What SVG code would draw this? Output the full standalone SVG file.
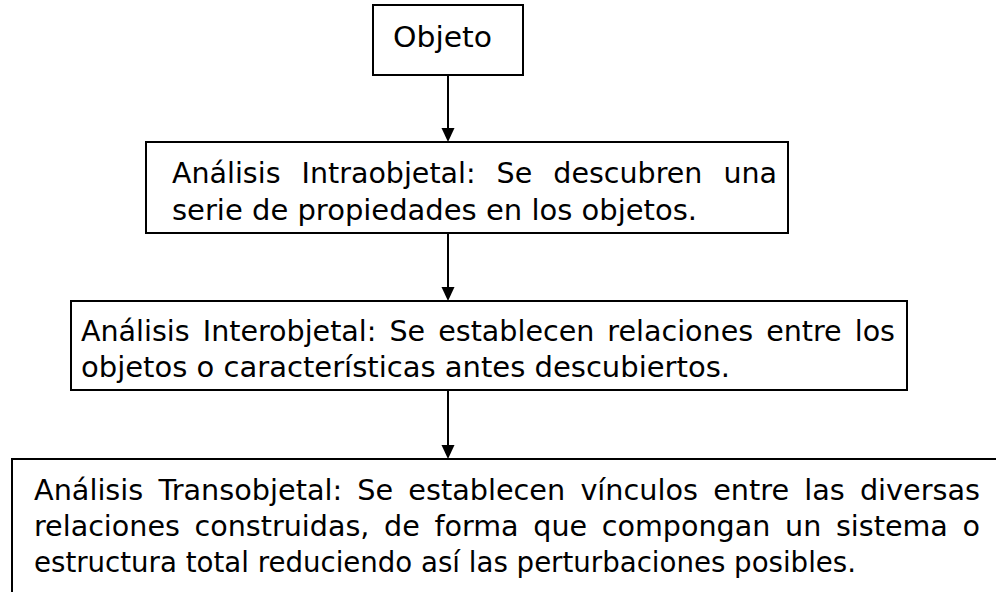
<svg xmlns="http://www.w3.org/2000/svg" width="996" height="592" viewBox="0 0 996 592">
<style>
.box{fill:#fff;stroke:#000;stroke-width:2}
.t{font-family:"DejaVu Sans","Noto Sans",sans-serif;font-size:28.5px;fill:#000}
.c{stroke:#000;stroke-width:2;fill:none}
.h{fill:#000;stroke:none}
</style>
<g id="connectors">
<line class="c" x1="448" y1="75" x2="448" y2="128"/>
<path class="h" d="M441.5,128 L454.5,128 L448,142 Z"/>
<line class="c" x1="448" y1="233" x2="448" y2="287"/>
<path class="h" d="M441.5,287 L454.5,287 L448,301 Z"/>
<line class="c" x1="448" y1="390" x2="448" y2="445"/>
<path class="h" d="M441.5,445 L454.5,445 L448,459 Z"/>
</g>
<g id="n1">
<rect class="box" x="373" y="5" width="150" height="70"/>
<text class="t" x="393" y="47" textLength="99" lengthAdjust="spacingAndGlyphs">Objeto</text>
</g>
<g id="n2">
<rect class="box" x="146" y="142" width="642" height="91"/>
<text class="t" x="172" y="183" word-spacing="12" textLength="605" lengthAdjust="spacingAndGlyphs">Análisis Intraobjetal: Se descubren una</text>
<text class="t" x="172" y="220" textLength="525" lengthAdjust="spacingAndGlyphs">serie de propiedades en los objetos.</text>
</g>
<g id="n3">
<rect class="box" x="71" y="301" width="836" height="89"/>
<text class="t" x="81" y="341" word-spacing="4" textLength="814" lengthAdjust="spacingAndGlyphs">Análisis Interobjetal: Se establecen relaciones entre los</text>
<text class="t" x="81" y="377" textLength="649" lengthAdjust="spacingAndGlyphs">objetos o características antes descubiertos.</text>
</g>
<g id="n4">
<rect class="box" x="12" y="459" width="1000" height="150"/>
<text class="t" x="34" y="500" word-spacing="6" textLength="946" lengthAdjust="spacingAndGlyphs">Análisis Transobjetal: Se establecen vínculos entre las diversas</text>
<text class="t" x="34" y="536" word-spacing="5.6" textLength="946" lengthAdjust="spacingAndGlyphs">relaciones construidas, de forma que compongan un sistema o</text>
<text class="t" x="34" y="572" textLength="822" lengthAdjust="spacingAndGlyphs">estructura total reduciendo así las perturbaciones posibles.</text>
</g>
</svg>
